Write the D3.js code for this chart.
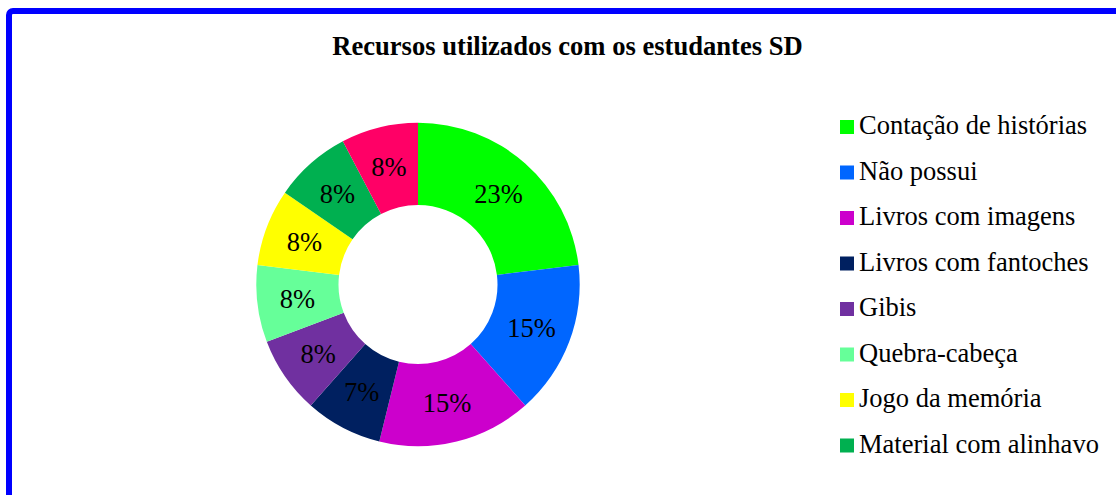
<!DOCTYPE html>
<html><head><meta charset="utf-8">
<script src="https://cdn.jsdelivr.net/npm/d3@7"></script>
<style>html,body{margin:0;padding:0;background:#fff;overflow:hidden}</style>
</head><body>
<svg id="chart" width="1116" height="495"></svg>
<script>
const title = "Recursos utilizados com os estudantes SD";
const categories = ["Contação de histórias","Não possui","Livros com imagens","Livros com fantoches","Gibis","Quebra-cabeça","Jogo da memória","Material com alinhavo","Outros"];
const values = [3,2,2,1,1,1,1,1,1];
const pctLabels = ["23%","15%","15%","7%","8%","8%","8%","8%","8%"];
const colors = ["#00FF00","#0066FF","#CC00CC","#002060","#7030A0","#66FF99","#FFFF00","#00B050","#FF0066"];
const legendVisible = 8;

const FONT = "'Liberation Serif', 'Times New Roman', serif";
const svg = d3.select("#chart");
svg.append("rect").attr("x",9).attr("y",11).attr("width",1140).attr("height",520)
  .attr("rx",4).attr("fill","#fff").attr("stroke","#0000FF").attr("stroke-width",6);

svg.append("text").attr("x",567.5).attr("y",55).attr("text-anchor","middle")
  .attr("font-family",FONT).attr("font-weight","bold")
  .attr("font-size",26.6).text(title);

const cx = 418, cy = 284.5, rOut = 161.7, rIn = 79.5;
const pie = d3.pie().sort(null).value(d=>d)(values);
const arc = d3.arc().innerRadius(rIn).outerRadius(rOut);
const lab = d3.arc().innerRadius(121.4).outerRadius(121.4);
const g = svg.append("g").attr("transform",`translate(${cx},${cy})`);
g.selectAll("path").data(pie).join("path").attr("d",arc).attr("fill",(d,i)=>colors[i]);
g.selectAll("text").data(pie).join("text")
  .attr("transform",d=>`translate(${lab.centroid(d)})`)
  .attr("text-anchor","middle").attr("dy","0.35em")
  .attr("font-family",FONT).attr("font-size",26.5)
  .text((d,i)=>pctLabels[i]);

const lg = svg.append("g");
const items = categories.slice(0,legendVisible);
const step = 45.5;
items.forEach((c,i)=>{
  const y = 134 + i*step;
  lg.append("rect").attr("x",840).attr("y",y-14).attr("width",14).attr("height",14).attr("fill",colors[i]);
  lg.append("text").attr("x",859).attr("y",y)
    .attr("font-family",FONT).attr("font-size",26.5).text(c);
});
</script>
</body></html>
